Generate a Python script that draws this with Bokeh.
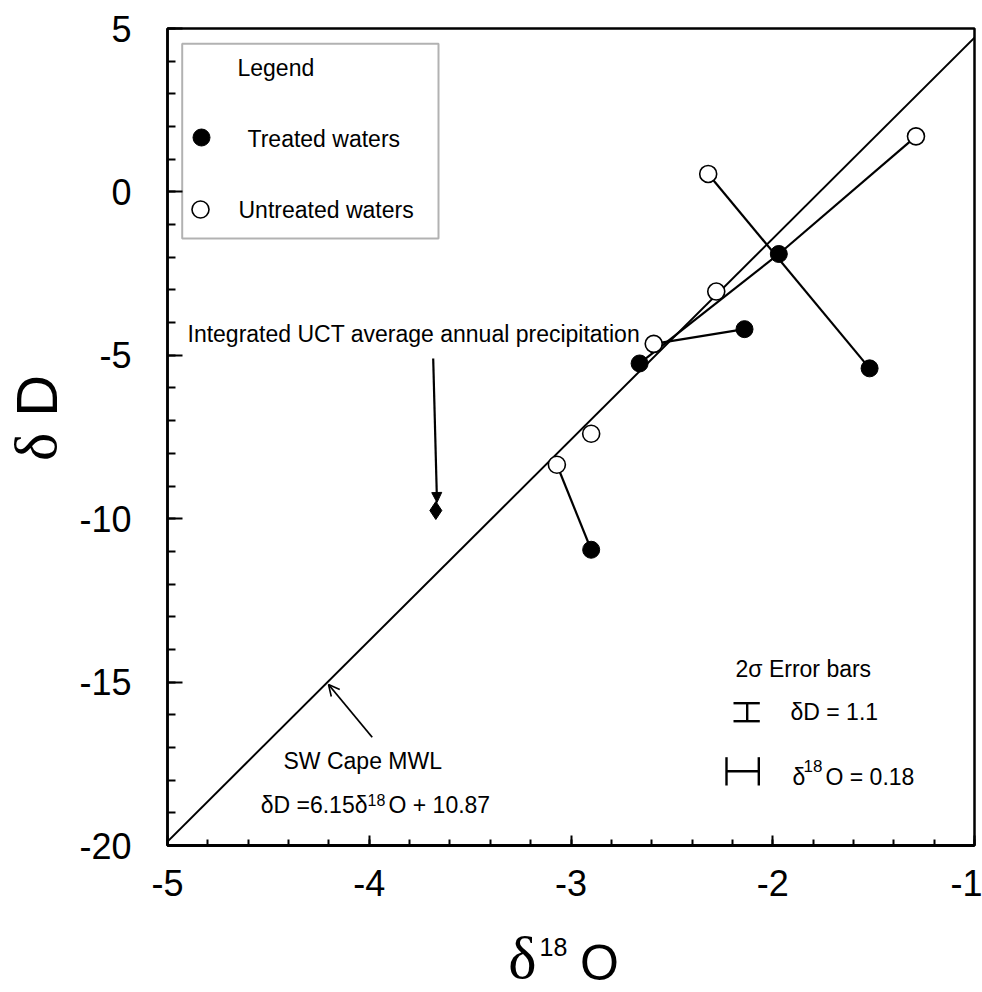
import math
import numpy as np
from bokeh.plotting import figure
from bokeh.layouts import column, row
from bokeh.models import Range1d, FixedTicker, Label, Arrow, NormalHead, OpenHead, BoxAnnotation
from bokeh.embed import file_html
from bokeh.resources import INLINE

# ---- data ----
treated_x = [-1.97, -1.52, -2.14, -2.66, -2.90]
treated_y = [-1.90, -5.40, -4.20, -5.25, -10.95]
untreated_x = [-1.29, -2.32, -2.28, -2.59, -2.90, -3.07]
untreated_y = [1.70, 0.55, -3.05, -4.65, -7.40, -8.35]
precip_x = [-3.67]
precip_y = [-9.75]
# connecting segments: (kind_a, idx_a, kind_b, idx_b)
links = [("u", 0, "t", 0), ("t", 0, "t", 3), ("u", 1, "t", 1), ("u", 3, "t", 2), ("u", 5, "t", 4)]
mwl_x = [-5.0, -1.0]
mwl_y = [-19.88, 4.72]
x_ticks = [-5, -4, -3, -2, -1]
y_ticks = [-20, -15, -10, -5, 0, 5]

FONT = "Liberation Sans"
SERIF = "Liberation Serif"

# pixel -> data helpers for annotation placement in the main frame
def dx(px):
    return -5 + (px - 167) * 4 / 807

def dy(py):
    return 5 - (py - 28) * 25 / 817

LEFT_W = 74
MAIN_H = 912

p = figure(width=982 - LEFT_W, height=MAIN_H, x_range=Range1d(-5, -1), y_range=Range1d(-20, 5),
           output_backend="svg", toolbar_location=None,
           min_border_left=167 - LEFT_W, min_border_right=8, min_border_top=28,
           min_border_bottom=MAIN_H - 845)
p.grid.visible = False
p.background_fill_color = "white"
p.border_fill_color = "white"
p.outline_line_color = "black"
p.outline_line_width = 2.5

p.xaxis.ticker = FixedTicker(ticks=x_ticks, minor_ticks=list(np.round(np.arange(-5, -0.99, 0.2), 2)))
p.yaxis.ticker = FixedTicker(ticks=y_ticks, minor_ticks=list(range(-20, 6)))
p.xaxis.major_label_overrides = {t: str(t) for t in x_ticks}
p.yaxis.major_label_overrides = {t: str(t) for t in y_ticks}
for ax in (p.xaxis, p.yaxis):
    ax.major_label_text_font = FONT
    ax.major_label_text_font_size = "36px"
    ax.major_label_text_color = "black"
    ax.axis_line_color = "black"
    ax.major_tick_line_color = "black"
    ax.minor_tick_line_color = "black"
    ax.major_tick_out = 0
    ax.minor_tick_out = 0
    ax.major_tick_line_width = 2
    ax.minor_tick_line_width = 2
p.xaxis.axis_line_width = 3
p.yaxis.axis_line_width = 2.5
p.xaxis.major_tick_in = 10
p.xaxis.minor_tick_in = 6
p.yaxis.major_tick_in = 15
p.yaxis.minor_tick_in = 8
p.xaxis.major_label_standoff = 24
p.yaxis.major_label_standoff = 36

# meteoric water line
p.line(mwl_x, mwl_y, line_color="black", line_width=2)

# connecting segments
def pt(kind, i):
    if kind == "t":
        return treated_x[i], treated_y[i]
    return untreated_x[i], untreated_y[i]

x0s, y0s, x1s, y1s = [], [], [], []
for ka, ia, kb, ib in links:
    a = pt(ka, ia); b = pt(kb, ib)
    x0s.append(a[0]); y0s.append(a[1]); x1s.append(b[0]); y1s.append(b[1])
p.segment(x0s, y0s, x1s, y1s, line_color="black", line_width=2.2)

# points
p.scatter(treated_x, treated_y, marker="circle", size=17, fill_color="black", line_color="black")
p.scatter(untreated_x, untreated_y, marker="circle", size=17, fill_color="white", line_color="black", line_width=1.6)
p.scatter(precip_x, precip_y, marker="diamond", size=18, fill_color="black", line_color="black")

# legend box
p.add_layout(BoxAnnotation(left=dx(181.7), right=dx(438), top=dy(43.3), bottom=dy(238),
                           fill_color=None, line_color="black", line_width=2))
p.scatter([dx(201)], [dy(137)], marker="circle", size=17, fill_color="black", line_color="black")
p.scatter([dx(200)], [dy(209)], marker="circle", size=17, fill_color="white", line_color="black", line_width=1.6)

def lab(fig, x, y, text, size="23px", font=FONT, align="left", angle=0.0):
    fig.add_layout(Label(x=x, y=y, text=text, text_font=font, text_font_size=size,
                         text_color="black", text_baseline="middle", text_align=align, angle=angle))

def mlab(px, py, text, **kw):
    lab(p, dx(px), dy(py), text, **kw)

mlab(237, 67, "Legend")
mlab(247, 138, "Treated waters")
mlab(238, 209, "Untreated waters")

mlab(187, 333, "Integrated UCT average annual precipitation")
p.add_layout(Arrow(end=NormalHead(size=10, fill_color="black", line_color="black"),
                   x_start=dx(432.7), y_start=dy(358), x_end=dx(436.5), y_end=dy(502),
                   line_color="black", line_width=2.2))

mlab(283, 760, "SW Cape MWL")
p.add_layout(Arrow(end=OpenHead(size=11, line_color="black", line_width=1.6),
                   x_start=dx(371.7), y_start=dy(736.7), x_end=dx(328), y_end=dy(684),
                   line_color="black", line_width=1.8))
mlab(367, 804, "δD =6.15δ", align="right")
mlab(367, 799, "18", size="16px")
mlab(388, 804, "O + 10.87")

# error bar key
mlab(735, 668, "2σ Error bars")
p.segment([dx(746.7), dx(733), dx(733)], [dy(702.7), dy(702.7), dy(720.7)],
          [dx(746.7), dx(759.3), dx(759.3)], [dy(720.7), dy(702.7), dy(720.7)],
          line_color="black", line_width=2.4)
mlab(790, 711, "δD = 1.1")
p.segment([dx(726), dx(726), dx(758.3)], [dy(770.7), dy(756.7), dy(756.7)],
          [dx(758.3), dx(726), dx(758.3)], [dy(770.7), dy(785), dy(785)],
          line_color="black", line_width=2.4)
mlab(792, 776, "δ")
mlab(803, 765, "18", size="17px")
mlab(825, 776, "O = 0.18")

# ---- side canvases for the axis titles (pixel coordinates) ----
def canvas(w, h):
    c = figure(width=w, height=h, x_range=Range1d(0, w), y_range=Range1d(0, h),
               output_backend="svg", toolbar_location=None, min_border=0,
               x_axis_type=None, y_axis_type=None)
    c.grid.visible = False
    c.outline_line_color = None
    c.background_fill_color = "white"
    c.border_fill_color = "white"
    return c

p_left = canvas(LEFT_W, MAIN_H)
lab(p_left, 35, MAIN_H - 467, "δ", size="60px", font=SERIF, align="center", angle=math.pi / 2)
lab(p_left, 36, MAIN_H - 410, "D", size="58px", align="center", angle=math.pi / 2)

BOT_H = 992 - MAIN_H
p_bottom = canvas(982, BOT_H)
lab(p_bottom, 522, 992 - 957, "δ", size="60px", font=SERIF, align="center")
lab(p_bottom, 553, 992 - 946, "18", size="25px", align="center")
lab(p_bottom, 599, 992 - 962, "O", size="50px", align="center")

layout = column(row(p_left, p, spacing=0), p_bottom, spacing=0)

open("out.html", "w").write(file_html(layout, INLINE))
